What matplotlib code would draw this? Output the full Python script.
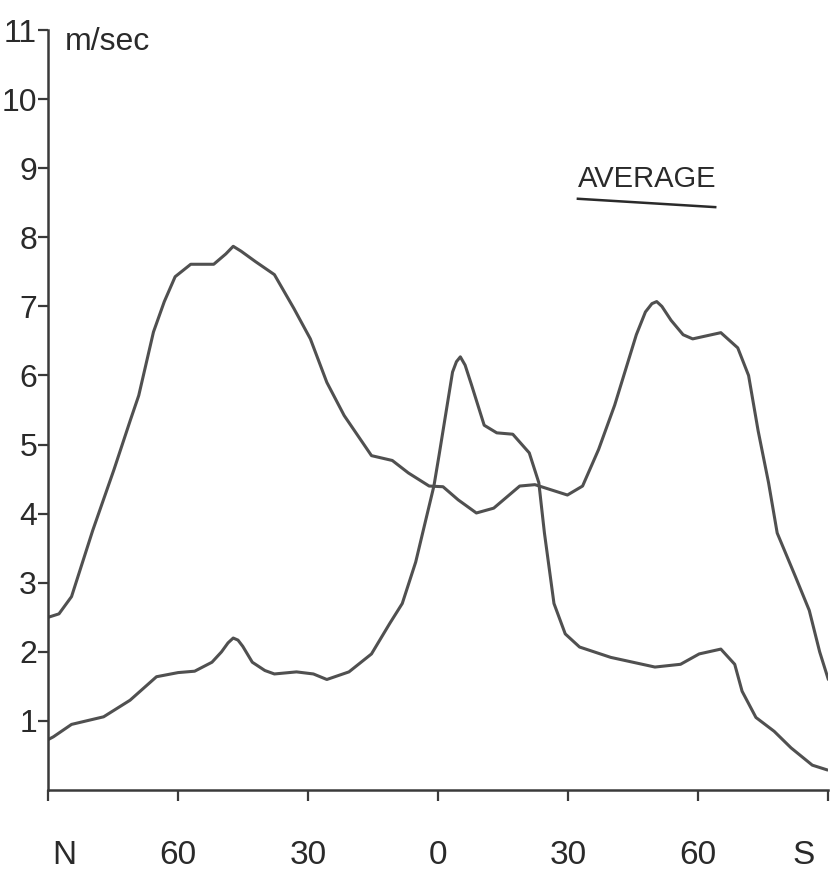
import matplotlib.pyplot as plt
from matplotlib.transforms import offset_copy

plt.rcParams['font.family'] = ['Liberation Sans', 'DejaVu Sans']

# latitude (N negative, S positive) and wind speed (m/sec)
lat_a = [-90, -87.5, -84.6, -79.7, -74.8, -71.0, -69.1, -65.7, -63.2, -60.7,
         -57.1, -51.8, -49.0, -47.3, -45.5, -42.2, -37.8, -33.3, -29.5, -25.7,
         -21.7, -15.4, -10.6, -6.9, -2.1, 1.1, 4.6, 8.8, 12.8, 18.8,
         22.3, 29.8, 33.3, 37.0, 40.7, 45.7, 47.8, 49.3, 50.4, 51.6,
         53.7, 56.5, 58.7, 65.2, 69.1, 71.6, 73.8, 76.2, 78.2, 82.4,
         85.6, 88.0, 90]
speed_a = [2.5, 2.55, 2.8, 3.76, 4.64, 5.36, 5.71, 6.63, 7.07, 7.43,
           7.61, 7.61, 7.76, 7.87, 7.8, 7.65, 7.46, 6.97, 6.53, 5.9,
           5.42, 4.84, 4.77, 4.59, 4.4, 4.39, 4.2, 4.01, 4.08, 4.4,
           4.42, 4.27, 4.4, 4.93, 5.57, 6.59, 6.92, 7.04, 7.07, 7.0,
           6.8, 6.59, 6.53, 6.62, 6.4, 6.0, 5.2, 4.45, 3.72, 3.09,
           2.6, 2.0, 1.6]

lat_b = [-90, -88.8, -84.6, -77.2, -71.1, -65.0, -60, -56.2, -52.2, -50.0,
         -48.5, -47.3, -46.2, -45.1, -42.9, -40.0, -37.8, -32.7, -28.8, -25.7,
         -20.6, -15.4, -11.2, -8.3, -5.2, -3.6, -1.0, 0.2, 3.3, 4.2,
         5.1, 6.2, 7.7, 10.6, 13.5, 17.2, 21.0, 23.2, 24.5, 26.7,
         29.3, 32.6, 39.8, 50.0, 55.9, 60.2, 65.2, 68.4, 70.1, 73.3,
         77.5, 81.4, 86.3, 89.8]
speed_b = [0.73, 0.77, 0.95, 1.06, 1.3, 1.64, 1.7, 1.72, 1.85, 2.0,
           2.13, 2.2, 2.17, 2.08, 1.85, 1.73, 1.68, 1.71, 1.68, 1.6,
           1.71, 1.97, 2.41, 2.7, 3.3, 3.72, 4.4, 4.85, 6.05, 6.2,
           6.27, 6.15, 5.86, 5.28, 5.17, 5.15, 4.88, 4.45, 3.72, 2.7,
           2.26, 2.07, 1.92, 1.78, 1.82, 1.97, 2.04, 1.82, 1.43, 1.05,
           0.85, 0.61, 0.36, 0.29]

x_ticks = [-90, -60, -30, 0, 30, 60, 90]
x_labels = ["N", "60", "30", "0", "30", "60", "S"]
y_ticks = list(range(1, 12))

line_color = "#505050"
axis_color = "#3a3a3a"
text_color = "#2a2a2a"

fig = plt.figure(figsize=(8.3, 8.84), dpi=100)
ax = fig.add_axes([0.058, 0.1063, 0.94, 0.8597])

for lat, speed in [(lat_a, speed_a), (lat_b, speed_b)]:
    ax.plot(lat, speed, color=line_color, lw=2.2,
            solid_capstyle="round", solid_joinstyle="round")

ax.set_xlim(-90, 90)
ax.set_ylim(0, 11)

for side in ["top", "right"]:
    ax.spines[side].set_visible(False)
for side in ["left", "bottom"]:
    ax.spines[side].set_color(axis_color)
    ax.spines[side].set_linewidth(1.8)

ax.set_xticks(x_ticks)
ax.set_xticklabels(x_labels)
ax.set_yticks(y_ticks)
ax.tick_params(axis="y", direction="out", length=7, width=1.6, color=axis_color,
               pad=1, labelsize=23, labelcolor=text_color)
ax.tick_params(axis="x", direction="out", length=8, width=1.6, color=axis_color,
               pad=28, labelsize=24, labelcolor=text_color)

# N and S labels sit a little inside their ticks
xlabels = ax.get_xticklabels()
xlabels[0].set_transform(offset_copy(xlabels[0].get_transform(), fig=fig, x=16, units="dots"))
xlabels[-1].set_transform(offset_copy(xlabels[-1].get_transform(), fig=fig, x=-25, units="dots"))

ax.text(0.022, 0.984, "m/sec", transform=ax.transAxes, fontsize=23,
        color=text_color, ha="left", va="center")

ax.text(0.768, 0.804, "AVERAGE", transform=ax.transAxes, fontsize=21,
        color=text_color, ha="center", va="center")
ax.plot([0.679, 0.855], [0.778, 0.767], transform=ax.transAxes,
        color=text_color, lw=1.8, clip_on=False)

fig.savefig("out.png", dpi=100)
